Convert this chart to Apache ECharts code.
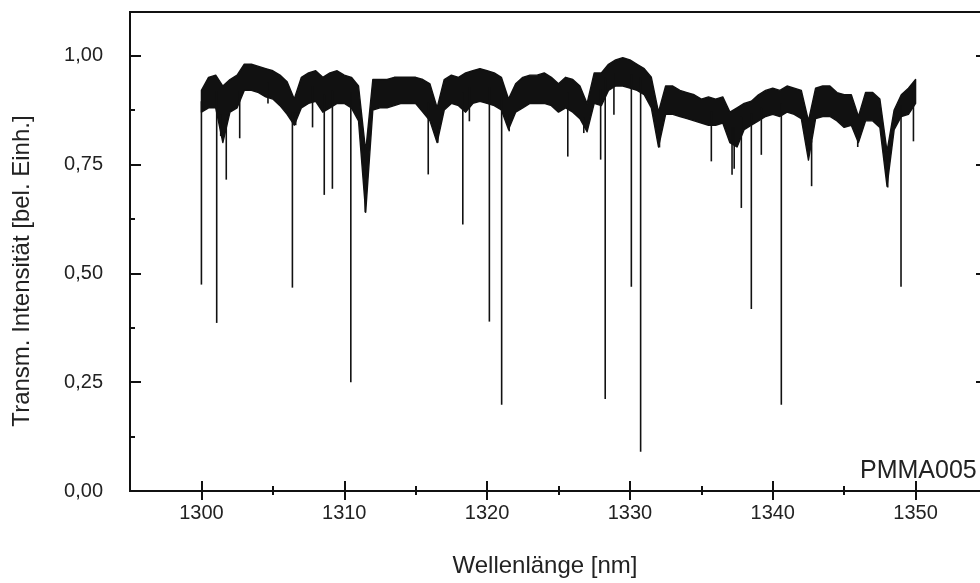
<!DOCTYPE html>
<html><head><meta charset="utf-8">
<script src="https://cdn.jsdelivr.net/npm/echarts@6/dist/echarts.min.js"></script>
<style>html,body{margin:0;padding:0;background:#fff}#c{width:980px;height:583px}</style>
</head><body><div id="c"></div>
<script>
// Envelope of the noisy transmission band (every 0.5 nm)
const wavelength = [1300,1300.5,1301,1301.5,1302,1302.5,1303,1303.5,1304,1304.5,1305,1305.5,1306,1306.5,1307,1307.5,1308,1308.5,1309,1309.5,
 1310,1310.5,1311,1311.5,1312,1312.5,1313,1313.5,1314,1314.5,1315,1315.5,1316,1316.5,1317,1317.5,1318,1318.5,1319,1319.5,
 1320,1320.5,1321,1321.5,1322,1322.5,1323,1323.5,1324,1324.5,1325,1325.5,1326,1326.5,1327,1327.5,1328,1328.5,1329,1329.5,
 1330,1330.5,1331,1331.5,1332,1332.5,1333,1333.5,1334,1334.5,1335,1335.5,1336,1336.5,1337,1337.5,1338,1338.5,1339,1339.5,
 1340,1340.5,1341,1341.5,1342,1342.5,1343,1343.5,1344,1344.5,1345,1345.5,1346,1346.5,1347,1347.5,1348,1348.5,1349,1349.5,1350];
const upperEnvelope = [0.92,0.95,0.955,0.93,0.945,0.955,0.98,0.98,0.975,0.97,0.965,0.955,0.94,0.90,0.95,0.96,0.965,0.95,0.96,0.965,
 0.955,0.95,0.93,0.78,0.945,0.945,0.945,0.95,0.95,0.95,0.95,0.945,0.935,0.88,0.945,0.955,0.95,0.96,0.965,0.97,
 0.965,0.96,0.95,0.90,0.935,0.95,0.955,0.955,0.96,0.95,0.935,0.95,0.945,0.93,0.89,0.96,0.96,0.98,0.99,0.995,
 0.99,0.98,0.97,0.95,0.87,0.93,0.93,0.92,0.915,0.91,0.90,0.905,0.90,0.905,0.87,0.88,0.89,0.895,0.91,0.92,
 0.925,0.92,0.93,0.925,0.92,0.85,0.925,0.93,0.93,0.915,0.91,0.91,0.86,0.915,0.915,0.90,0.78,0.875,0.91,0.925,0.945];
const lowerEnvelope = [0.87,0.88,0.88,0.80,0.87,0.88,0.92,0.92,0.915,0.905,0.90,0.885,0.865,0.84,0.88,0.89,0.895,0.87,0.88,0.89,
 0.89,0.88,0.85,0.64,0.875,0.88,0.88,0.885,0.89,0.89,0.89,0.87,0.85,0.80,0.875,0.89,0.885,0.87,0.89,0.895,
 0.89,0.885,0.875,0.83,0.87,0.88,0.89,0.89,0.89,0.885,0.87,0.88,0.87,0.855,0.825,0.89,0.885,0.92,0.93,0.93,
 0.925,0.92,0.91,0.88,0.79,0.865,0.865,0.86,0.855,0.85,0.845,0.84,0.84,0.845,0.80,0.79,0.83,0.84,0.85,0.86,
 0.865,0.86,0.87,0.865,0.855,0.76,0.855,0.86,0.86,0.85,0.835,0.84,0.80,0.85,0.85,0.835,0.70,0.83,0.86,0.865,0.89];
// Narrow absorption lines: position [nm] and minimum transmission
const lineWavelength = [1300.0,1301.07,1301.35,1301.74,1302.68,1304.66,1306.37,1306.6,1307.78,1308.6,1309.17,1310.46,1311.47,
 1315.88,1316.55,1318.3,1318.76,1320.16,1321.02,1321.55,1325.65,1326.77,1327.95,1328.27,1328.88,1330.1,1330.75,
 1332.07,1335.7,1337.15,1337.3,1337.8,1338.5,1339.2,1340.6,1342.72,1345.95,1348.05,1348.98,1349.85];
const lineMinimum = [0.474,0.386,0.815,0.715,0.81,0.89,0.467,0.84,0.835,0.68,0.694,0.25,0.64,
 0.727,0.80,0.612,0.849,0.389,0.198,0.826,0.768,0.822,0.761,0.211,0.864,0.469,0.09,
 0.789,0.757,0.726,0.74,0.65,0.418,0.772,0.198,0.70,0.79,0.697,0.469,0.803];
const xMajorTicks = [1300,1310,1320,1330,1340,1350];
const xMinorTicks = [1305,1315,1325,1335,1345];
const yMajorTicks = [0,0.25,0.5,0.75,1.0];
const yMinorTicks = [0.125,0.375,0.625,0.875];
const xTitle = 'Wellenlänge [nm]';
const yTitle = 'Transm. Intensität [bel. Einh.]';
const sampleLabel = 'PMMA005';

const FONT = '"Liberation Sans", Arial, Helvetica, sans-serif';
const INK = '#111';

function nearestIndex(x) {
  let best = 0;
  for (let i = 1; i < wavelength.length; i++) {
    if (Math.abs(wavelength[i] - x) < Math.abs(wavelength[best] - x)) best = i;
  }
  return best;
}

function xAx(pos, ticks, len, labels) {
  return {
    type: 'value', position: pos, min: 1295, max: 1355,
    axisLine: { show: false }, splitLine: { show: false },
    axisTick: { show: true, inside: true, length: len, customValues: ticks, lineStyle: { color: INK, width: 2 } },
    axisLabel: { show: labels, customValues: ticks, margin: 12, color: '#222', fontSize: 20, fontFamily: FONT,
      formatter: v => String(v) }
  };
}
function yAx(pos, ticks, len, labels) {
  return {
    type: 'value', position: pos, min: 0, max: 1.1,
    axisLine: { show: false }, splitLine: { show: false },
    axisTick: { show: true, inside: true, length: len, customValues: ticks, lineStyle: { color: INK, width: 2 } },
    axisLabel: { show: labels, customValues: ticks, margin: 27, color: '#222', fontSize: 20, fontFamily: FONT,
      formatter: v => v.toFixed(2).replace('.', ',') }
  };
}

const chart = echarts.init(document.getElementById('c'), null, { renderer: 'canvas' });
chart.setOption({
  animation: false,
  backgroundColor: '#fff',
  grid: { left: 130, top: 12, right: -7, bottom: 92, show: true, borderColor: INK, borderWidth: 2,
          backgroundColor: 'transparent', outerBoundsMode: 'none' },
  xAxis: [ xAx('bottom', xMajorTicks, 10, true), xAx('bottom', xMinorTicks, 5, false),
           xAx('top', xMajorTicks, 9, false), xAx('top', xMinorTicks, 4, false) ],
  yAxis: [ yAx('left', yMajorTicks, 11, true), yAx('left', yMinorTicks, 5, false),
           yAx('right', yMajorTicks, 11, false), yAx('right', yMinorTicks, 5, false) ],
  series: [
    { type: 'custom', xAxisIndex: 0, yAxisIndex: 0, silent: true, z: 2,
      data: wavelength.map((x, i) => [x, lowerEnvelope[i], upperEnvelope[i]]),
      encode: { x: 0, y: [1, 2] },
      renderItem: (params, api) => {
        if (params.dataIndex !== 0) return null;
        const pts = [];
        for (let i = 0; i < wavelength.length; i++) pts.push(api.coord([wavelength[i], upperEnvelope[i]]));
        for (let i = wavelength.length - 1; i >= 0; i--) pts.push(api.coord([wavelength[i], lowerEnvelope[i]]));
        return { type: 'polygon', shape: { points: pts },
                 style: { fill: INK, stroke: INK, lineWidth: 1.4, lineJoin: 'round' } };
      } },
    { type: 'custom', xAxisIndex: 0, yAxisIndex: 0, silent: true, z: 3,
      data: lineWavelength.map((x, i) => {
        const k = nearestIndex(x);
        return [x, lineMinimum[i], (upperEnvelope[k] + lowerEnvelope[k]) / 2];
      }),
      encode: { x: 0, y: [1, 2] },
      renderItem: (params, api) => {
        const a = api.coord([api.value(0), api.value(2)]);
        const b = api.coord([api.value(0), api.value(1)]);
        return { type: 'line', shape: { x1: a[0], y1: a[1], x2: b[0], y2: b[1] },
                 style: { stroke: INK, lineWidth: 1.6 } };
      } }
  ],
  graphic: [
    { type: 'text', x: 545, y: 566, silent: true,
      style: { text: xTitle, font: '24px ' + FONT, fill: '#222', align: 'center', verticalAlign: 'middle',
               textAlign: 'center', textVerticalAlign: 'middle' } },
    { type: 'text', x: 22, y: 271, rotation: Math.PI / 2, silent: true,
      style: { text: yTitle, font: '24px ' + FONT, fill: '#222', align: 'center', verticalAlign: 'middle',
               textAlign: 'center', textVerticalAlign: 'middle' } },
    { type: 'text', x: 860, y: 471, silent: true,
      style: { text: sampleLabel, font: '25px ' + FONT, fill: '#222', align: 'left', verticalAlign: 'middle',
               textAlign: 'left', textVerticalAlign: 'middle' } }
  ]
});
</script></body></html>
